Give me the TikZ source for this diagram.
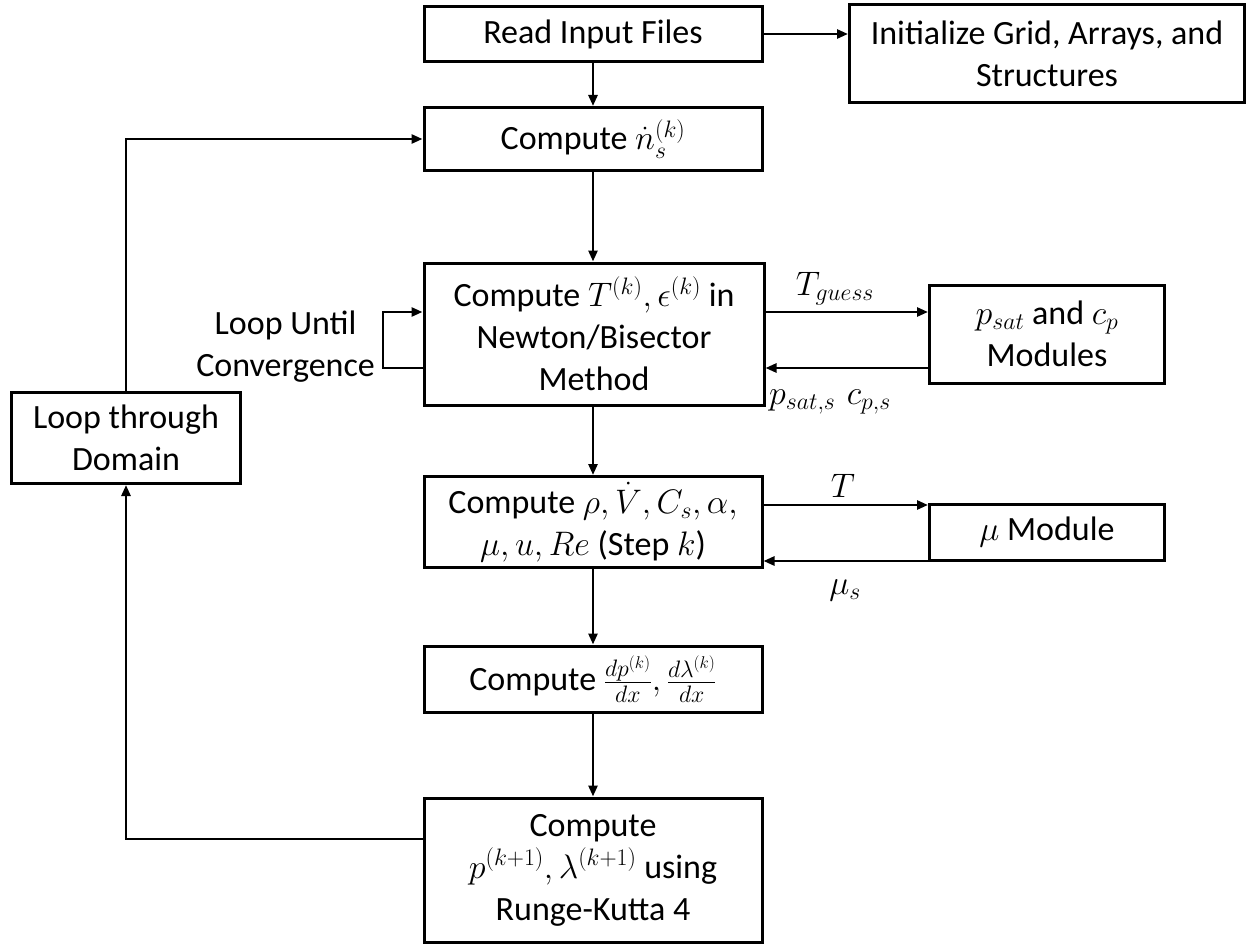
\documentclass[tikz,border=0pt]{standalone}
\usepackage{fix-cm}
\usepackage{fontspec}
\setmainfont{Carlito}
\usetikzlibrary{arrows.meta,calc}
\begin{document}
\begin{tikzpicture}[x=1pt,y=-1pt,
  box/.style={draw,line width=3pt,align=center,inner sep=2pt,font=\fontsize{34}{42}\selectfont},
  arr/.style={line width=2.6pt,-{Triangle[length=11pt,width=9pt]}},
  lab/.style={font=\fontsize{34}{42}\selectfont}]
\useasboundingbox (0,0) rectangle (1249,947);
\fill[white] (0,0) rectangle (1249,947);
\node[box,minimum width=338pt,minimum height=55pt] (read) at (593,34) {Read Input Files};
\node[box,minimum width=395pt,minimum height=98pt] (init) at (1047,54) {Initialize Grid, Arrays, and\\Structures};
\node[box,minimum width=338pt,minimum height=63pt] (ns) at (593,139) {Compute $\dot{n}_s^{(k)}$};
\node[box,minimum width=340pt,minimum height=142pt] (T) at (594,334) {Compute $T^{(k)},\epsilon^{(k)}$ in\\Newton/Bisector\\Method};
\node[box,minimum width=235pt,minimum height=98pt] (psat) at (1047,334) {$p_{sat}$ and $c_p$\\Modules};
\node[box,minimum width=338pt,minimum height=91pt] (rho) at (593,522) {Compute $\rho,\dot{V},C_s,\alpha,$\\$\mu,u,Re$ (Step $k$)};
\node[box,minimum width=235pt,minimum height=56pt] (mu) at (1047,532) {$\mu$ Module};
\node[box,minimum width=338pt,minimum height=66pt] (dp) at (593,679) {Compute $\frac{dp^{(k)}}{dx},\frac{d\lambda^{(k)}}{dx}$};
\node[box,minimum width=338pt,minimum height=144pt] (rk) at (593,870) {Compute\\$p^{(k+1)},\lambda^{(k+1)}$ using\\Runge-Kutta 4};
\node[box,minimum width=229pt,minimum height=91pt] (dom) at (126,438) {Loop through\\Domain};
\node[lab,align=center,anchor=east,inner sep=2pt] (conv) at (377,347) {Loop Until\\Convergence};
\node[lab] (tg) at (835,289) {$T_{guess}$};
\node[lab] (pc) at (830,402) {$p_{sat,s}\,\,c_{p,s}$};
\node[lab] (tl) at (843,486) {$T$};
\node[lab] (mus) at (845,590) {$\mu_s$};
% main flow
\draw[arr] (read.east) -- (init.west |- read.east);
\draw[arr] (read) -- (ns);
\draw[arr] (ns) -- (ns |- T.north);
\draw[arr] (T.south -| rho) -- (rho);
\draw[arr] (rho) -- (dp);
\draw[arr] (dp) -- (rk);
% convergence loop
\coordinate (c1) at (383,368);
\coordinate (c2) at (383,312);
\draw[arr] (T.west |- c1) -- (c1) -- (c2) -- (T.west |- c2);
% psat
\coordinate (g1) at (0,312);
\coordinate (g2) at (0,368);
\draw[arr] (T.east |- g1) -- (psat.west |- g1);
\draw[arr] (psat.west |- g2) -- (T.east |- g2);
% mu
\coordinate (m1) at (0,505);
\coordinate (m2) at (0,561);
\draw[arr] (rho.east |- m1) -- (mu.west |- m1);
\draw[arr] (mu.west |- m2) -- (rho.east |- m2);
% domain loop
\coordinate (d1) at (126,839);
\draw[arr] (rk.west |- d1) -- (d1) -- (dom.south);
\draw[arr] (dom.north) |- (ns.west);
\end{tikzpicture}
\end{document}
